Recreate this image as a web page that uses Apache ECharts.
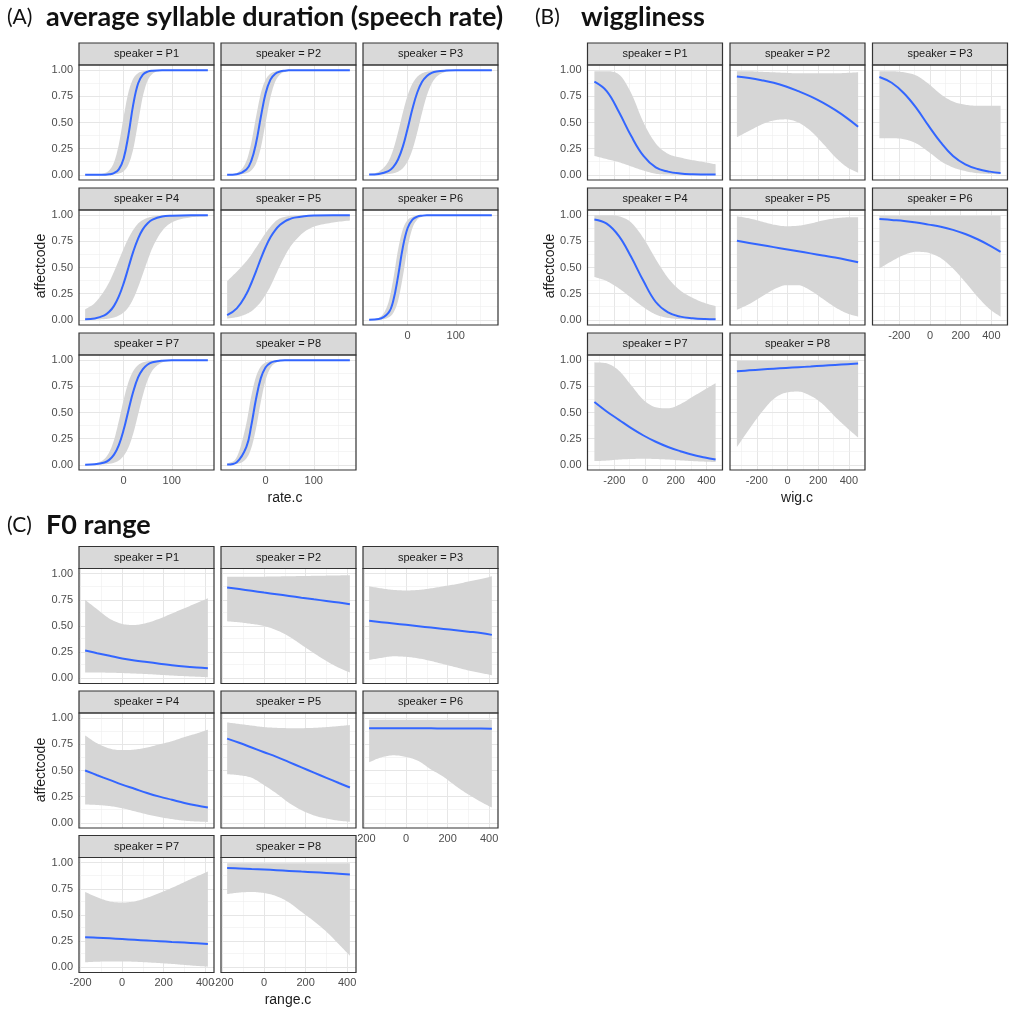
<!DOCTYPE html>
<html><head><meta charset="utf-8">
<script src="https://cdn.jsdelivr.net/npm/echarts@6/dist/echarts.min.js"></script>
<style>html,body{margin:0;padding:0;background:#fff}#c{width:1010px;height:1009px}</style>
</head><body><div id="c"></div>
<script>
// ---------------- DATA ----------------
const speakers = ['P1','P2','P3','P4','P5','P6','P7','P8'];
const yTicks = [0, 0.25, 0.5, 0.75, 1];
const yMinor = [0.125, 0.375, 0.625, 0.875];

// (A) average syllable duration (speech rate)
const xA = [-80,-60,-40,-30,-20,-10,0,10,20,30,40,50,60,80,100,140,175];
const ticksA = [0, 100];
const minorA = [-50, 50, 150];
const aFit = [
  [0,0,0.001,0.004,0.016,0.052,0.156,0.382,0.673,0.873,0.958,0.987,0.996,1,1,1,1],
  [0.001,0.006,0.05,0.131,0.301,0.552,0.779,0.91,0.967,0.988,0.996,0.999,1,1,1,1,1],
  [0.002,0.008,0.035,0.073,0.146,0.269,0.443,0.632,0.787,0.889,0.945,0.974,0.988,0.997,1,1,1],
  [0.004,0.012,0.042,0.076,0.133,0.223,0.348,0.5,0.652,0.777,0.867,0.924,0.958,0.988,0.996,1,1],
  [0.044,0.109,0.246,0.347,0.463,0.585,0.696,0.789,0.858,0.908,0.942,0.963,0.977,0.991,0.997,1,1],
  [0.001,0.007,0.065,0.18,0.413,0.693,0.878,0.958,0.987,0.996,1,1,1,1,1,1,1],
  [0.001,0.005,0.022,0.047,0.097,0.188,0.334,0.52,0.7,0.835,0.915,0.959,0.981,0.996,1,1,1],
  [0.003,0.025,0.171,0.371,0.629,0.829,0.933,0.975,0.991,0.997,1,1,1,1,1,1,1]
];
const aHi = [
  [0,0.002,0.015,0.043,0.119,0.29,0.555,0.79,0.92,0.972,0.99,0.997,1,1,1,1,1],
  [0.002,0.018,0.131,0.301,0.552,0.779,0.91,0.967,0.988,0.996,1,1,1,1,1,1,1],
  [0.007,0.03,0.128,0.24,0.406,0.594,0.76,0.872,0.937,0.97,0.986,0.993,0.997,1,1,1,1],
  [0.10,0.16,0.28,0.36,0.46,0.57,0.68,0.78,0.86,0.92,0.955,0.975,0.988,0.997,1,1,1],
  [0.37,0.46,0.56,0.62,0.69,0.76,0.83,0.89,0.94,0.97,0.985,0.993,0.997,1,1,1,1],
  [0.002,0.019,0.164,0.385,0.668,0.865,0.954,0.985,0.995,1,1,1,1,1,1,1,1],
  [0.002,0.011,0.056,0.119,0.237,0.418,0.622,0.791,0.897,0.953,0.979,0.991,0.996,1,1,1,1],
  [0.01,0.074,0.396,0.653,0.843,0.939,0.978,0.992,0.997,1,1,1,1,1,1,1,1]
];
const aLo = [
  [0,0,0,0.001,0.004,0.012,0.034,0.098,0.248,0.5,0.752,0.902,0.966,0.996,1,1,1],
  [0,0.002,0.015,0.041,0.109,0.259,0.5,0.741,0.891,0.959,0.985,0.995,0.999,1,1,1,1],
  [0,0.002,0.007,0.014,0.03,0.063,0.128,0.24,0.406,0.594,0.76,0.872,0.937,0.986,0.997,1,1],
  [0,0.002,0.006,0.012,0.022,0.04,0.07,0.12,0.2,0.31,0.44,0.57,0.69,0.85,0.93,0.98,0.99],
  [0.012,0.025,0.055,0.08,0.12,0.17,0.24,0.32,0.42,0.52,0.61,0.69,0.75,0.84,0.89,0.93,0.95],
  [0,0.002,0.021,0.065,0.18,0.413,0.693,0.878,0.958,0.987,0.996,1,1,1,1,1,1],
  [0,0.001,0.004,0.009,0.019,0.041,0.085,0.165,0.3,0.48,0.666,0.812,0.903,0.978,0.995,1,1],
  [0.001,0.008,0.061,0.157,0.347,0.604,0.813,0.926,0.973,0.99,0.997,1,1,1,1,1,1]
];

// (B) wiggliness
const xB = [-330,-250,-170,-90,-10,70,150,230,310,390,460];
const ticksB = [-200, 0, 200, 400];
const minorB = [-300, -100, 100, 300, 500];
const bFit = [
  [0.89,0.80,0.60,0.37,0.18,0.07,0.03,0.012,0.005,0.003,0.002],
  [0.94,0.925,0.905,0.88,0.845,0.80,0.75,0.69,0.62,0.54,0.46],
  [0.935,0.88,0.78,0.64,0.47,0.31,0.18,0.10,0.055,0.03,0.018],
  [0.96,0.92,0.80,0.60,0.37,0.17,0.07,0.03,0.015,0.008,0.006],
  [0.755,0.735,0.715,0.695,0.675,0.655,0.635,0.615,0.595,0.572,0.55],
  [0.965,0.955,0.945,0.93,0.91,0.89,0.86,0.82,0.77,0.71,0.65],
  [0.60,0.51,0.43,0.35,0.28,0.22,0.17,0.13,0.095,0.07,0.05],
  [0.895,0.903,0.911,0.919,0.926,0.933,0.940,0.948,0.955,0.962,0.968]
];
const bHi = [
  [0.99,0.99,0.96,0.78,0.50,0.30,0.20,0.165,0.14,0.12,0.10],
  [0.99,0.99,0.985,0.98,0.975,0.97,0.97,0.97,0.97,0.975,0.98],
  [0.99,0.99,0.98,0.95,0.87,0.77,0.70,0.67,0.66,0.66,0.66],
  [1.0,1.0,0.99,0.93,0.78,0.58,0.40,0.28,0.21,0.16,0.13],
  [0.99,0.97,0.94,0.91,0.895,0.90,0.92,0.95,0.97,0.98,0.98],
  [0.995,0.995,0.995,0.995,0.995,0.995,0.995,0.995,0.995,0.995,0.995],
  [0.98,0.97,0.90,0.76,0.62,0.55,0.54,0.58,0.65,0.72,0.78],
  [0.995,0.995,0.995,0.995,0.995,0.995,0.995,0.995,0.995,0.995,0.995]
];
const bLo = [
  [0.18,0.15,0.12,0.08,0.04,0.01,0.002,0,0,0,0],
  [0.36,0.42,0.48,0.52,0.53,0.50,0.42,0.30,0.17,0.07,0.02],
  [0.35,0.35,0.34,0.30,0.22,0.13,0.07,0.035,0.015,0.008,0.005],
  [0.41,0.37,0.30,0.21,0.12,0.05,0.018,0.006,0.002,0,0],
  [0.095,0.15,0.22,0.29,0.33,0.33,0.28,0.20,0.12,0.06,0.03],
  [0.49,0.56,0.62,0.65,0.64,0.59,0.49,0.36,0.22,0.10,0.03],
  [0.035,0.04,0.05,0.055,0.058,0.055,0.05,0.042,0.035,0.03,0.026],
  [0.17,0.34,0.50,0.63,0.69,0.70,0.66,0.58,0.46,0.35,0.26]
];

// (C) F0 range
const xC = [-178,-120,-60,0,60,120,180,240,300,360,413];
const ticksC = [-200, 0, 200, 400];
const minorC = [-100, 100, 300];
const cFit = [
  [0.265,0.24,0.215,0.19,0.17,0.155,0.14,0.125,0.112,0.102,0.095],
  [0.868,0.853,0.837,0.820,0.804,0.788,0.771,0.755,0.740,0.724,0.708],
  [0.55,0.537,0.524,0.511,0.498,0.485,0.472,0.459,0.446,0.433,0.415],
  [0.50,0.455,0.41,0.365,0.325,0.285,0.25,0.22,0.19,0.165,0.146],
  [0.805,0.765,0.72,0.675,0.63,0.58,0.53,0.48,0.43,0.38,0.337],
  [0.905,0.905,0.904,0.904,0.903,0.903,0.902,0.902,0.901,0.901,0.90],
  [0.288,0.283,0.277,0.27,0.263,0.256,0.249,0.242,0.236,0.229,0.223],
  [0.95,0.945,0.94,0.935,0.929,0.922,0.915,0.909,0.902,0.895,0.888]
];
const cHi = [
  [0.75,0.66,0.57,0.52,0.51,0.53,0.57,0.62,0.67,0.72,0.765],
  [0.97,0.97,0.97,0.972,0.974,0.976,0.978,0.98,0.982,0.984,0.985],
  [0.88,0.86,0.845,0.84,0.845,0.86,0.88,0.90,0.925,0.95,0.975],
  [0.835,0.76,0.71,0.695,0.70,0.72,0.75,0.78,0.82,0.855,0.89],
  [0.96,0.945,0.93,0.915,0.908,0.905,0.905,0.908,0.915,0.925,0.935],
  [0.985,0.985,0.985,0.985,0.985,0.985,0.985,0.985,0.985,0.985,0.985],
  [0.72,0.67,0.63,0.62,0.63,0.665,0.71,0.76,0.815,0.87,0.915],
  [0.995,0.995,0.995,0.995,0.995,0.995,0.995,0.995,0.995,0.995,0.995]
];
const cLo = [
  [0.055,0.055,0.053,0.05,0.045,0.04,0.033,0.026,0.02,0.015,0.01],
  [0.545,0.535,0.52,0.50,0.46,0.40,0.32,0.24,0.165,0.10,0.055],
  [0.175,0.195,0.21,0.205,0.19,0.165,0.135,0.105,0.075,0.05,0.03],
  [0.175,0.17,0.16,0.14,0.11,0.08,0.055,0.035,0.02,0.012,0.008],
  [0.465,0.455,0.43,0.36,0.28,0.19,0.12,0.07,0.04,0.02,0.01],
  [0.58,0.625,0.645,0.63,0.59,0.51,0.44,0.35,0.27,0.20,0.145],
  [0.048,0.053,0.056,0.056,0.053,0.047,0.04,0.032,0.022,0.013,0.006],
  [0.70,0.715,0.72,0.71,0.68,0.62,0.53,0.44,0.34,0.22,0.11]
];

// ---------------- LAYOUT ----------------
const W = 135, SH = 22, PH = 115;
const panels = [
  { tag:'(A)', title:'average syllable duration (speech rate)', tx:7, tt:46, ty:17,
    x:xA, fit:aFit, lo:aLo, hi:aHi, xmin:-92.75, xmax:187.75, ticks:ticksA, minor:minorA,
    lefts:[79,221,363], tops:[43,188,333], xTitle:'rate.c', xtX:285, xtY:498, ytX:41, ytY:266 },
  { tag:'(B)', title:'wiggliness', tx:535, tt:581, ty:17,
    x:xB, fit:bFit, lo:bLo, hi:bHi, xmin:-375, xmax:505, ticks:ticksB, minor:minorB,
    lefts:[587.5,730,872.5], tops:[43,188,333], xTitle:'wig.c', xtX:797, xtY:498, ytX:550, ytY:266 },
  { tag:'(C)', title:'F0 range', tx:7, tt:46, ty:525,
    x:xC, fit:cFit, lo:cLo, hi:cHi, xmin:-207.5, xmax:442.5, ticks:ticksC, minor:minorC,
    lefts:[79,221,363], tops:[546.5,691,835.5], xTitle:'range.c', xtX:288, xtY:1000, ytX:41, ytY:770 }
];

const LBL_FONT = 'Liberation Sans, Arial, sans-serif';
const grids = [], xAxes = [], yAxes = [], series = [], graphics = [];
let g = 0;

// Monotone cubic (Fritsch-Carlson) rendering of a pixel polyline, x ascending
function monoCurve(pts, steps) {
  const n = pts.length;
  if (n < 3) return pts.slice();
  const m = [], t = new Array(n);
  for (let k = 0; k < n - 1; k++) m.push((pts[k+1][1] - pts[k][1]) / (pts[k+1][0] - pts[k][0]));
  t[0] = m[0]; t[n-1] = m[n-2];
  for (let k = 1; k < n - 1; k++) t[k] = (m[k-1] * m[k] <= 0) ? 0 : (m[k-1] + m[k]) / 2;
  for (let k = 0; k < n - 1; k++) {
    if (m[k] === 0) { t[k] = 0; t[k+1] = 0; continue; }
    const a = t[k] / m[k], b = t[k+1] / m[k], s = a * a + b * b;
    if (s > 9) { const tau = 3 / Math.sqrt(s); t[k] = tau * a * m[k]; t[k+1] = tau * b * m[k]; }
  }
  const out = [];
  for (let k = 0; k < n - 1; k++) {
    const x0 = pts[k][0], y0 = pts[k][1], x1 = pts[k+1][0], y1 = pts[k+1][1], h = x1 - x0;
    for (let j = 0; j < steps; j++) {
      const u = j / steps, u2 = u * u, u3 = u2 * u;
      const h00 = 2*u3 - 3*u2 + 1, h10 = u3 - 2*u2 + u, h01 = -2*u3 + 3*u2, h11 = u3 - u2;
      out.push([x0 + u * h, h00*y0 + h10*h*t[k] + h01*y1 + h11*h*t[k+1]]);
    }
  }
  out.push(pts[n-1]);
  return out;
}

function bandRenderer(xs, lo, hi) {
  return function (params, api) {
    const up = monoCurve(xs.map((x, k) => api.coord([x, hi[k]])), 10);
    const dn = monoCurve(xs.map((x, k) => api.coord([x, lo[k]])), 10).reverse();
    return { type:'polygon', silent:true,
      shape:{ points: up.concat(dn) },
      style:{ fill:'#d6d6d6' } };
  };
}

panels.forEach(p => {
  graphics.push({ type:'text', x:p.tx, y:p.ty, z:50,
    style:{ text:p.tag, font:'normal 21px Lato, sans-serif', fill:'#111',
      textAlign:'left', textVerticalAlign:'middle', align:'left', verticalAlign:'middle' } });
  graphics.push({ type:'text', x:p.tt, y:p.ty, z:50,
    style:{ text:p.title, font:'bold 27px Lato, sans-serif', fill:'#111',
      textAlign:'left', textVerticalAlign:'middle', align:'left', verticalAlign:'middle' } });
  graphics.push({ type:'text', x:p.xtX, y:p.xtY, z:50,
    style:{ text:p.xTitle, font:'normal 14px ' + LBL_FONT, fill:'#1a1a1a',
      textAlign:'center', textVerticalAlign:'middle', align:'center', verticalAlign:'middle' } });
  graphics.push({ type:'text', x:p.ytX, y:p.ytY, rotation:Math.PI/2, z:50,
    style:{ text:'affectcode', font:'normal 14px ' + LBL_FONT, fill:'#1a1a1a',
      textAlign:'center', textVerticalAlign:'middle', align:'center', verticalAlign:'middle' } });

  for (let i = 0; i < 8; i++) {
    const col = i % 3, row = Math.floor(i / 3);
    const left = p.lefts[col], st = p.tops[row], top = st + SH;
    const showX = row === 2 || (row === 1 && col === 2);
    const showY = col === 0;
    grids.push({ left:left, top:top, width:W, height:PH, show:true,
      backgroundColor:'#fff', borderWidth:0, containLabel:false });
    xAxes.push({ type:'value', gridIndex:g, min:p.xmin, max:p.xmax,
      axisLine:{show:false}, splitLine:{show:false},
      axisTick:{ show:showX, length:4, customValues:p.ticks, lineStyle:{color:'#333', width:1} },
      axisLabel:{ show:showX, customValues:p.ticks, margin:5, fontSize:11, color:'#4d4d4d',
        fontFamily:LBL_FONT, formatter:v => String(v) } });
    yAxes.push({ type:'value', gridIndex:g, min:-0.05, max:1.05,
      axisLine:{show:false}, splitLine:{show:false},
      axisTick:{ show:showY, length:4, customValues:yTicks, lineStyle:{color:'#333', width:1} },
      axisLabel:{ show:showY, customValues:yTicks, margin:6, fontSize:11, color:'#4d4d4d',
        fontFamily:LBL_FONT, formatter:v => Number(v).toFixed(2) } });

    const gl = [];
    p.ticks.forEach(v => { if (v > p.xmin && v < p.xmax) gl.push({ xAxis:v, lineStyle:{ width:1, color:'#e6e6e6' } }); });
    p.minor.forEach(v => { if (v > p.xmin && v < p.xmax) gl.push({ xAxis:v, lineStyle:{ width:0.6, color:'#eeeeee' } }); });
    yTicks.forEach(v => gl.push({ yAxis:v, lineStyle:{ width:1, color:'#e6e6e6' } }));
    yMinor.forEach(v => gl.push({ yAxis:v, lineStyle:{ width:0.6, color:'#eeeeee' } }));

    const xs = p.x;
    const fitData = xs.map((x, k) => [x, p.fit[i][k]]);
    series.push({ type:'custom', xAxisIndex:g, yAxisIndex:g, silent:true, z:2,
      data:[[xs[0], p.lo[i][0], p.hi[i][0]]],
      renderItem: bandRenderer(xs, p.lo[i], p.hi[i]) });
    series.push({ type:'line', xAxisIndex:g, yAxisIndex:g, data:fitData,
      smooth:0.4, symbol:'none', silent:true, z:3,
      lineStyle:{ color:'#3366FF', width:2 },
      markLine:{ silent:true, symbol:['none','none'], label:{show:false}, z:1, animation:false,
        emphasis:{disabled:true}, lineStyle:{ type:'solid', opacity:1 }, data:gl } });

    graphics.push({ type:'rect', z:60, shape:{ x:left, y:st, width:W, height:SH },
      style:{ fill:'#d9d9d9', stroke:'#333', lineWidth:1.2 } });
    graphics.push({ type:'text', z:61, x:left + W / 2, y:st + SH / 2,
      style:{ text:'speaker = ' + speakers[i], font:'normal 11px ' + LBL_FONT, fill:'#1a1a1a',
        textAlign:'center', textVerticalAlign:'middle', align:'center', verticalAlign:'middle' } });
    graphics.push({ type:'rect', z:60, shape:{ x:left, y:top, width:W, height:PH },
      style:{ fill:'rgba(0,0,0,0)', stroke:'#333', lineWidth:1.2 } });
    g++;
  }
});

const chart = echarts.init(document.getElementById('c'), null, { renderer:'canvas' });
chart.setOption({
  backgroundColor:'#fff',
  animation:false,
  grid:grids, xAxis:xAxes, yAxis:yAxes, series:series,
  graphic:{ elements:graphics }
});
</script></body></html>
